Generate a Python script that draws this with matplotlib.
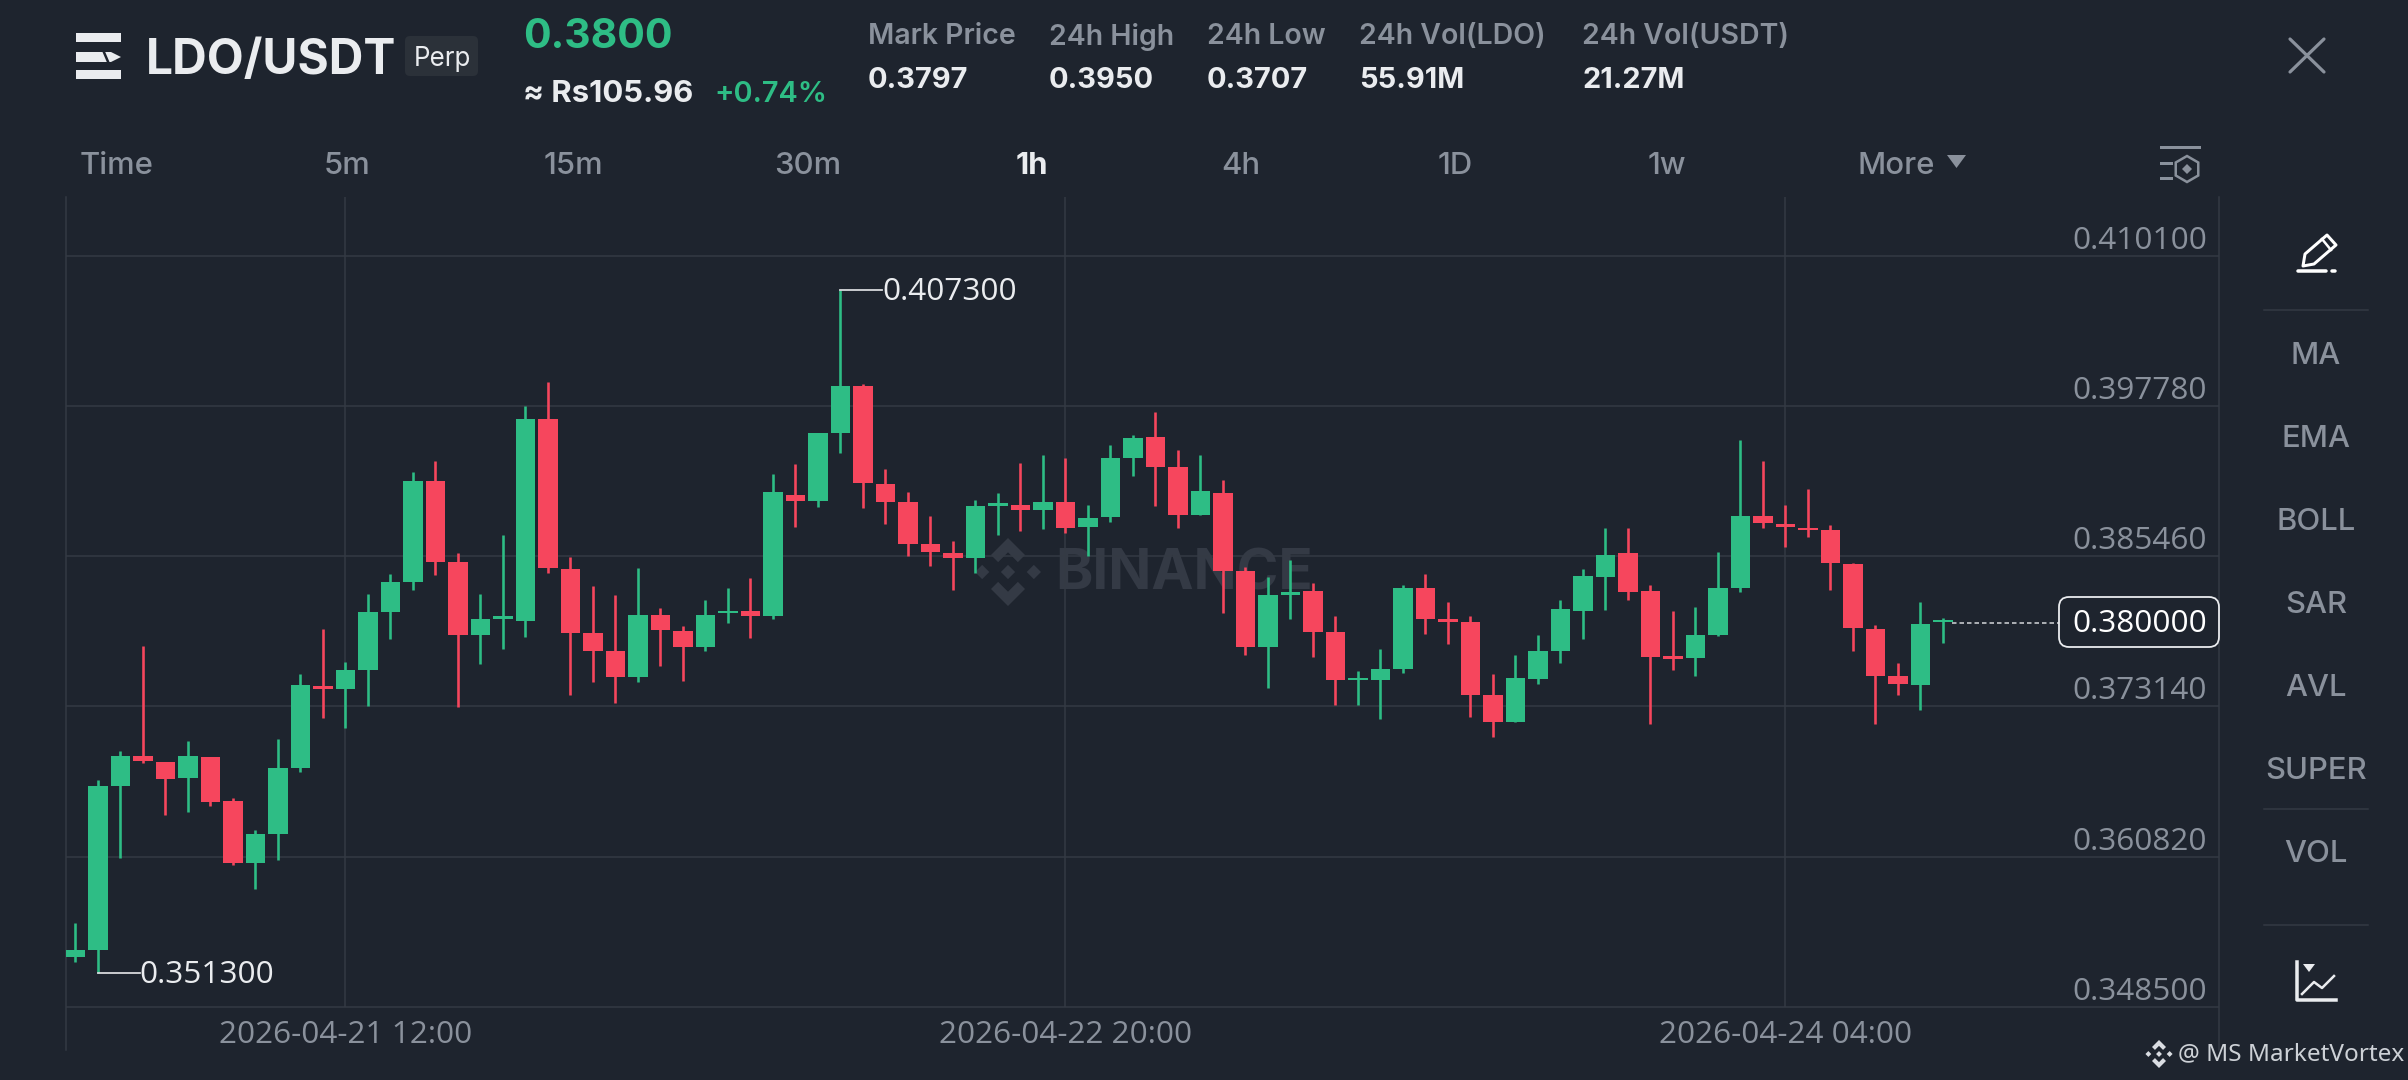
# LDO/USDT 1h candles, binance style screen
import matplotlib
matplotlib.use("Agg")
import matplotlib.pyplot as plt
from matplotlib.patches import Polygon, Rectangle, FancyBboxPatch, RegularPolygon

W, H = 2408, 1080

# ceny sviecok
opens = [0.35261, 0.35318, 0.36663, 0.36908, 0.36858, 0.36727, 0.36898, 0.36538, 0.36029, 0.36271,
         0.36809, 0.37481, 0.37460, 0.37609, 0.38090, 0.38332, 0.39161, 0.38499, 0.37901, 0.38033,
         0.38018, 0.39673, 0.38438, 0.37919, 0.37769, 0.37559, 0.38068, 0.37930, 0.37801, 0.38079,
         0.38097, 0.38059, 0.39049, 0.39002, 0.39560, 0.39941, 0.39139, 0.38989, 0.38647, 0.38570,
         0.38529, 0.38959, 0.38967, 0.38928, 0.38989, 0.38789, 0.38868, 0.39350, 0.39528, 0.39279,
         0.38888, 0.39068, 0.38428, 0.37799, 0.38231, 0.38261, 0.37928, 0.37528, 0.37528, 0.37618,
         0.38289, 0.38029, 0.38010, 0.37408, 0.37186, 0.37539, 0.37769, 0.38097, 0.38379, 0.38570,
         0.38261, 0.37728, 0.37709, 0.37897, 0.38289, 0.38879, 0.38808, 0.38778, 0.38759, 0.38480,
         0.37952, 0.37566, 0.37490, 0.38004]
highs = [0.35538, 0.36709, 0.36947, 0.37809, 0.36858, 0.37029, 0.36898, 0.36560, 0.36300, 0.37047,
         0.37581, 0.37951, 0.37680, 0.38239, 0.38399, 0.39239, 0.39328, 0.38577, 0.38239, 0.38720,
         0.39776, 0.39972, 0.38542, 0.38300, 0.38228, 0.38449, 0.38122, 0.37972, 0.38186, 0.38282,
         0.38371, 0.39219, 0.39301, 0.39560, 0.40730, 0.39960, 0.39262, 0.39071, 0.38879, 0.38669,
         0.39008, 0.39063, 0.39311, 0.39377, 0.39350, 0.38967, 0.39459, 0.39541, 0.39730, 0.39418,
         0.39377, 0.39172, 0.38455, 0.38379, 0.38516, 0.38330, 0.38059, 0.37607, 0.37783, 0.38310,
         0.38401, 0.38171, 0.38059, 0.37580, 0.37739, 0.37897, 0.38187, 0.38442, 0.38778, 0.38778,
         0.38308, 0.38100, 0.38130, 0.38578, 0.39500, 0.39331, 0.38970, 0.39098, 0.38800, 0.38488,
         0.37979, 0.37670, 0.38171, 0.38037]
lows = [0.35218, 0.35130, 0.36069, 0.36851, 0.36424, 0.36449, 0.36496, 0.36015, 0.35816, 0.36051,
        0.36777, 0.37218, 0.37136, 0.37314, 0.37866, 0.38268, 0.38396, 0.37307, 0.37666, 0.37787,
        0.37883, 0.38406, 0.37406, 0.37513, 0.37339, 0.37517, 0.37645, 0.37524, 0.37769, 0.37997,
        0.37876, 0.38029, 0.38786, 0.38948, 0.39396, 0.38945, 0.38808, 0.38548, 0.38466, 0.38269,
        0.38406, 0.38718, 0.38756, 0.38767, 0.38737, 0.38548, 0.38827, 0.39205, 0.38959, 0.38778,
        0.38888, 0.38078, 0.37739, 0.37468, 0.38029, 0.37717, 0.37326, 0.37326, 0.37214, 0.37591,
        0.37908, 0.37824, 0.37227, 0.37066, 0.37186, 0.37498, 0.37668, 0.37867, 0.38105, 0.38187,
        0.37167, 0.37616, 0.37566, 0.37892, 0.38250, 0.38778, 0.38625, 0.38707, 0.38269, 0.37766,
        0.37167, 0.37408, 0.37285, 0.37837]
closes = [0.35314, 0.36659, 0.36905, 0.36866, 0.36720, 0.36908, 0.36528, 0.36026, 0.36268, 0.36809,
          0.37488, 0.37453, 0.37609, 0.38090, 0.38332, 0.39161, 0.38499, 0.37901, 0.38029, 0.38054,
          0.39673, 0.38449, 0.37919, 0.37769, 0.37559, 0.38068, 0.37940, 0.37801, 0.38068, 0.38100,
          0.38059, 0.39071, 0.39002, 0.39560, 0.39941, 0.39150, 0.38989, 0.38650, 0.38578, 0.38532,
          0.38959, 0.38981, 0.38928, 0.38989, 0.38778, 0.38857, 0.39350, 0.39519, 0.39279, 0.38888,
          0.39079, 0.38428, 0.37799, 0.38228, 0.38253, 0.37928, 0.37528, 0.37550, 0.37618, 0.38289,
          0.38029, 0.38010, 0.37408, 0.37186, 0.37547, 0.37769, 0.38111, 0.38387, 0.38559, 0.38256,
          0.37720, 0.37706, 0.37897, 0.38289, 0.38879, 0.38816, 0.38784, 0.38759, 0.38488, 0.37958,
          0.37566, 0.37501, 0.37988, 0.38020]

price_ticks = [0.410100, 0.397780, 0.385460, 0.373140, 0.360820, 0.348500]
time_idx = [12, 44, 76]
time_labels = ["2026-04-21 12:00", "2026-04-22 20:00", "2026-04-24 04:00"]
last_price = 0.380000
max_idx, max_price = 34, 0.407300
min_idx, min_price = 1, 0.351300

stat_names = ["Mark Price", "24h High", "24h Low", "24h Vol(LDO)", "24h Vol(USDT)"]
stat_values = ["0.3797", "0.3950", "0.3707", "55.91M", "21.27M"]
tabs = ["Time", "5m", "15m", "30m", "1h", "4h", "1D", "1w"]
side_items = ["MA", "EMA", "BOLL", "SAR", "AVL", "SUPER", "VOL"]

BG = "#1E242E"
GRID = "#343A44"
GREEN = "#2EBD85"
RED = "#F6465D"
GREY = "#8A919C"
WHITE = "#EAECEF"
HEAD = "Inter"
NUM = "Open Sans"


def px(v):
    # pixely na pt pri dpi 100
    return v * 0.72


def overlay(zorder):
    a = fig.add_axes([0, 0, 1, 1], zorder=zorder)
    a.set_xlim(0, W)
    a.set_ylim(H, 0)
    a.axis("off")
    return a


def logo(a, cx, cy, r, color):
    for sign in (-1, 1):
        pts = [(0, -1), (0.5, -0.5), (0.29, -0.29), (0, -0.58), (-0.29, -0.29), (-0.5, -0.5)]
        a.add_patch(Polygon([(cx + x * r, cy + sign * y * r) for x, y in pts], color=color, lw=0))
    for dx in (-0.76, 0, 0.76):
        d = 0.21
        a.add_patch(Polygon([(cx + (dx - d) * r, cy), (cx + dx * r, cy - d * r),
                             (cx + (dx + d) * r, cy), (cx + dx * r, cy + d * r)], color=color, lw=0))


fig = plt.figure(figsize=(W / 100, H / 100), dpi=100, facecolor=BG)

# vodotlac pod grafom
back = overlay(0)
logo(back, 1008, 572, 34, "#343A45")
back.text(1055, 575, "BINANCE", fontsize=px(56.5), fontweight="bold", family=HEAD,
          color="#343A45", ha="left", va="center")

# graf
top_px, bot_px = 197, 1050
left_px, right_px = 66, 2219
ax = fig.add_axes([left_px / W, 1 - bot_px / H, (right_px - left_px) / W, (bot_px - top_px) / H], zorder=1)
ax.patch.set_alpha(0)
step = 22.5
ax.set_xlim((left_px - 75.4) / step, (right_px - 75.4) / step)
ppx = (price_ticks[0] - price_ticks[-1]) / 750.7
ax.set_ylim(price_ticks[0] - (bot_px - 256) * ppx, price_ticks[0] + (256 - top_px) * ppx)
for s in ["top", "bottom"]:
    ax.spines[s].set_visible(False)
for s in ["left", "right"]:
    ax.spines[s].set_color(GRID)
    ax.spines[s].set_linewidth(px(1.5))
ax.set_xticks([])
ax.set_yticks([])

for p in price_ticks:
    ax.axhline(p, color=GRID, lw=px(1.5), zorder=1)
    ax.annotate(f"{p:.6f}", xy=(1, p), xycoords=("axes fraction", "data"), xytext=(px(-12), px(15)),
                textcoords="offset points", ha="right", va="center", fontsize=px(31.5), family=NUM, color=GREY)
ax.vlines(time_idx, price_ticks[-1], ax.get_ylim()[1], color=GRID, lw=px(1.5), zorder=1)
for i, t in zip(time_idx, time_labels):
    ax.text(i, 0.017, t, transform=ax.get_xaxis_transform(), ha="center", va="center",
            fontsize=px(31.5), family=NUM, color=GREY)

# sviecky
idx = list(range(len(opens)))
cols = [GREEN if c >= o else RED for o, c in zip(opens, closes)]
ax.vlines(idx, lows, highs, colors=cols, lw=px(2.6), zorder=3)
ax.bar(idx, [c - o for o, c in zip(opens, closes)], bottom=opens, width=0.88, color=cols, lw=0, zorder=4)

# max / min popisky
ax.plot([max_idx, max_idx + 1.85], [max_price, max_price], color="#D8DADD", lw=px(1.8), zorder=5)
ax.annotate(f"{max_price:.6f}", xy=(max_idx + 1.85, max_price), xytext=(0, px(-2)), textcoords="offset points",
            ha="left", va="center", fontsize=px(31.5), family=NUM, color=WHITE, zorder=5)
ax.plot([min_idx, min_idx + 1.85], [min_price, min_price], color="#D8DADD", lw=px(1.8), zorder=5)
ax.annotate(f"{min_price:.6f}", xy=(min_idx + 1.85, min_price), xytext=(0, px(-2)), textcoords="offset points",
            ha="left", va="center", fontsize=px(31.5), family=NUM, color=WHITE, zorder=5)

# posledna cena
ax.plot([idx[-1] + 0.4, (2059 - 75.4) / step], [last_price, last_price], color="#D8DADD", lw=px(1.5),
        ls=(0, (3, 2)), zorder=5)

ui = overlay(2)
ui.add_patch(FancyBboxPatch((2067, 605), 144, 34, boxstyle="round,pad=8,rounding_size=10",
                            fc=BG, ec=WHITE, lw=px(1.8)))
ui.text(2207, 624, f"{last_price:.6f}", ha="right", va="center", fontsize=px(31.5), family=NUM, color="white")

# hlavicka
for y0, y1 in [(33, 42), (70, 79)]:
    ui.add_patch(Rectangle((76, y0), 45, y1 - y0, color=WHITE, lw=0))
ui.add_patch(Polygon([(76, 52), (111, 52), (121, 57), (111, 62), (76, 62)], color=WHITE, lw=0))
ui.plot([103, 109], [50, 64], color=BG, lw=px(2.5))
ui.text(146, 61, "LDO/USDT", fontsize=px(48), fontweight="bold", family=HEAD, color=WHITE, ha="left", va="center")
ui.add_patch(FancyBboxPatch((410, 41), 63, 30, boxstyle="round,pad=5,rounding_size=5", fc="#2B3139", ec="none"))
ui.text(442, 59, "Perp", fontsize=px(26), family=HEAD, color=WHITE, ha="center", va="center")
ui.text(523, 37, "0.3800", fontsize=px(41), fontweight="bold", family=HEAD, color=GREEN, ha="left", va="center")
ui.text(523, 94, "≈ Rs105.96", fontsize=px(31), fontweight="bold", family=HEAD, color=WHITE, ha="left", va="center")
ui.text(714, 94, "+0.74%", fontsize=px(29), fontweight="semibold", family=HEAD, color=GREEN, ha="left", va="center")

for x, name, val in zip([868, 1049, 1207, 1359, 1582], stat_names, stat_values):
    ui.text(x, 37, name, fontsize=px(28.5), fontweight="semibold", family=HEAD, color=GREY, ha="left", va="center")
    ui.text(x, 80, val, fontsize=px(29), fontweight="bold", family=HEAD, color=WHITE, ha="left", va="center")

# zalozky
for x, t in zip([117, 347, 573, 808, 1032, 1241, 1455, 1667], tabs):
    active = t == "1h"
    ui.text(x, 166, t, fontsize=px(31), family=HEAD, fontweight="bold" if active else "medium",
            color=WHITE if active else GREY, ha="center", va="center")
ui.text(1858, 166, "More", fontsize=px(31), family=HEAD, fontweight="medium", color=GREY, ha="left", va="center")
ui.add_patch(Polygon([(1947, 155), (1966, 155), (1956.5, 168)], color=GREY, lw=0))

# zatvorit + ikona nastaveni
ui.plot([2290, 2324], [39, 72], color=GREY, lw=px(3.2), solid_capstyle="round")
ui.plot([2290, 2324], [72, 39], color=GREY, lw=px(3.2), solid_capstyle="round")
ui.plot([2161, 2199], [147, 147], color=GREY, lw=px(3))
ui.plot([2161, 2171], [163, 163], color=GREY, lw=px(3))
ui.plot([2161, 2171], [178, 178], color=GREY, lw=px(3))
ui.add_patch(RegularPolygon((2187, 169), 6, radius=13, fc="none", ec=GREY, lw=px(2.5)))
ui.add_patch(RegularPolygon((2187, 169), 4, radius=5, fc=GREY, ec="none"))

# bocny panel
for y, t in zip([353, 436, 519, 602, 685, 768, 851], side_items):
    ui.text(2316, y + 3, t, fontsize=px(31), family=HEAD, fontweight="medium", color=GREY, ha="center", va="center")
for y in [310, 809, 925]:
    ui.plot([2264, 2368], [y, y], color=GRID, lw=px(1.5))

# ceruzka
ui.add_patch(Polygon([(2303, 266), (2305, 254), (2327, 235), (2336, 245), (2314, 264)],
                     fc="none", ec="white", lw=px(3), joinstyle="round"))
ui.plot([2322, 2331], [239, 250], color="white", lw=px(2.5))
ui.plot([2298, 2326], [271, 271], color="white", lw=px(3.5), solid_capstyle="round")
ui.plot([2332, 2335], [271, 271], color="white", lw=px(3.5), solid_capstyle="round")

# ikona grafu
ui.plot([2297, 2297, 2336], [962, 1000, 1000], color=WHITE, lw=px(3.5))
ui.plot([2302, 2314, 2322, 2334], [994, 982, 988, 976], color=WHITE, lw=px(2.5))
ui.add_patch(Polygon([(2303, 964), (2315, 964), (2309, 972)], color=WHITE, lw=0))

# podpis
logo(ui, 2159, 1054, 14, "#DADDE2")
ui.text(2178, 1054, "@ MS MarketVortex", fontsize=px(24.3), family="Noto Sans", color="#CDD1D6", ha="left", va="center")

fig.savefig("out.png", dpi=100, facecolor=BG)
